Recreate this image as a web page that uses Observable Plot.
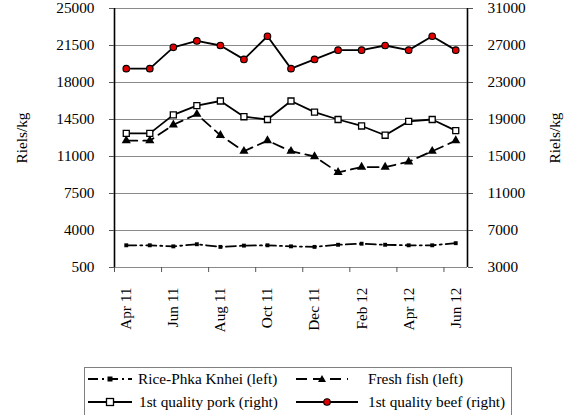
<!DOCTYPE html>
<html>
<head>
<meta charset="utf-8">
<script src="https://cdn.jsdelivr.net/npm/d3@7"></script>
<script src="https://cdn.jsdelivr.net/npm/@observablehq/plot@0.6"></script>
<style>
  body { margin: 0; background: white; font-family: "Liberation Serif", "Times New Roman", Times, "DejaVu Serif", serif; }
  #wrap { position: relative; width: 567px; height: 415px; overflow: hidden; }
  #legend { position: absolute; left: 84px; top: 367px; width: 428px; height: 60px; border: 1px solid #808080; box-sizing: border-box; }
  .item { position: absolute; height: 16px; display: flex; align-items: center; font-size: 15.3px; color: #000; white-space: nowrap; }
  .item svg { flex: none; }
  svg text { font-family: "Liberation Serif", "Times New Roman", Times, "DejaVu Serif", serif !important; }
</style>
</head>
<body>
<div id="wrap"><div id="chart"></div><div id="legend"></div></div>
<script>
const months = ["Apr 11","May 11","Jun 11","Jul 11","Aug 11","Sep 11","Oct 11","Nov 11","Dec 11","Jan 12","Feb 12","Mar 12","Apr 12","May 12","Jun 12"];
const rice = [2600,2600,2500,2700,2450,2570,2600,2500,2450,2650,2750,2650,2600,2600,2800];
const fish = [12500,12500,14000,15000,13000,11500,12500,11500,11000,9500,10000,10000,10500,11500,12500];
const pork = [17500,17500,19500,20500,21000,19300,19000,21000,19800,19000,18300,17300,18800,19000,17800];
const beef = [24500,24500,26800,27500,27000,25500,28000,24500,25500,26500,26500,27000,26500,28000,26500];
const leftTicks = [500,4000,7500,11000,14500,18000,21500,25000];
const rightTicks = [3000,7000,11000,15000,19000,23000,27000,31000];
const seriesNames = ["Rice-Phka Knhei (left)","Fresh fish (left)","1st quality pork (right)","1st quality beef (right)"];
const axisTitle = "Riels/kg";

// map right-axis values onto the left-axis scale
const toLeft = v => 500 + (v - 3000) * (25000 - 500) / (31000 - 3000);
const fromLeft = y => Math.round(3000 + (y - 500) * (31000 - 3000) / (25000 - 500));

const rows = months.map((m, i) => ({i, m, rice: rice[i], fish: fish[i], pork: toLeft(pork[i]), beef: toLeft(beef[i])}));
const labelIdx = months.map((m, i) => i).filter(i => i % 2 === 0);
const bounds = months.map((m, i) => i - 0.5).filter((b, k) => k % 2 === 0);

const fmt = d3.format("d");
const FONT = '"Liberation Serif", "Times New Roman", Times, "DejaVu Serif", serif';

const chart = Plot.plot({
  width: 567,
  height: 360,
  marginTop: 8,
  marginBottom: 93,
  marginLeft: 114,
  marginRight: 100,
  style: {fontFamily: FONT, fontSize: "15.3px", background: "white", overflow: "visible", color: "black"},
  x: {type: "linear", domain: [-0.5, months.length - 0.5]},
  y: {domain: [500, 25000]},
  marks: [
    Plot.gridY(leftTicks, {stroke: "#8a8a8a", strokeOpacity: 1, strokeWidth: 1}),
    Plot.ruleY([500], {stroke: "#8a8a8a", strokeWidth: 1}),
    Plot.ruleX([-0.5, months.length - 0.5], {stroke: "black", strokeWidth: 1.6}),
    Plot.axisY({anchor: "left", ticks: leftTicks, tickFormat: fmt, tickSize: 5, tickPadding: 15, stroke: "#555",
      label: axisTitle, labelAnchor: "center", labelArrow: "none", labelOffset: 98}),
    Plot.axisY({anchor: "right", ticks: rightTicks.map(toLeft), tickFormat: d => fmt(fromLeft(d)), tickSize: 5, tickPadding: 15, stroke: "#555",
      label: axisTitle, labelAnchor: "center", labelArrow: "none", labelOffset: 92}),
    Plot.axisX({ticks: bounds, tickFormat: () => "", tickSize: 5, stroke: "#555", label: null}),
    Plot.axisX({ticks: labelIdx, tickFormat: i => months[i], tickSize: 0, tickPadding: 20, tickRotate: -90, label: null}),
    Plot.line(rows, {x: "i", y: "rice", stroke: "black", strokeWidth: 1.8, strokeDasharray: "10,4,2,4"}),
    Plot.dot(rows, {x: "i", y: "rice", symbol: "square", r: 2.2, fill: "black"}),
    Plot.line(rows, {x: "i", y: "fish", stroke: "black", strokeWidth: 1.8, strokeDasharray: "11,6"}),
    Plot.dot(rows, {x: "i", y: "fish", symbol: "triangle", r: 3.4, fill: "black"}),
    Plot.line(rows, {x: "i", y: "pork", stroke: "black", strokeWidth: 1.8}),
    Plot.dot(rows, {x: "i", y: "pork", symbol: "square", r: 3.4, fill: "white", stroke: "black", strokeWidth: 1.3}),
    Plot.line(rows, {x: "i", y: "beef", stroke: "black", strokeWidth: 1.8}),
    Plot.dot(rows, {x: "i", y: "beef", symbol: "circle", r: 3.3, fill: "#e00000", stroke: "black", strokeWidth: 1.1})
  ]
});
document.getElementById("chart").appendChild(chart);

// legend
const samples = [
  `<line x1="0" y1="8" x2="44" y2="8" stroke="black" stroke-width="1.8" stroke-dasharray="10,4,2,4"/><rect x="19.5" y="5.5" width="5" height="5" fill="black"/>`,
  `<line x1="0" y1="8" x2="52" y2="8" stroke="black" stroke-width="1.8" stroke-dasharray="11,6"/><path d="M26,4 L30,11 L22,11 Z" fill="black"/>`,
  `<line x1="0" y1="8" x2="44" y2="8" stroke="black" stroke-width="1.8"/><rect x="18.5" y="4.5" width="7" height="7" fill="white" stroke="black" stroke-width="1.3"/>`,
  `<line x1="0" y1="8" x2="62" y2="8" stroke="black" stroke-width="1.8"/><circle cx="31" cy="8" r="3.3" fill="#e00000" stroke="black" stroke-width="1.1"/>`
];
const pos = [[3, 3, 44, 6], [211, 3, 54, 18], [3, 26, 44, 7], [211, 26, 64, 8]];
const legend = document.getElementById("legend");
seriesNames.forEach((name, k) => {
  const d = document.createElement("div");
  d.className = "item";
  d.style.left = pos[k][0] + "px";
  d.style.top = pos[k][1] + "px";
  const w = pos[k][2];
  d.innerHTML = `<svg width="${w}" height="16">${samples[k]}</svg><span></span>`;
  const s = d.querySelector("span");
  s.textContent = name;
  s.style.marginLeft = pos[k][3] + "px";
  legend.appendChild(d);
});
</script>
</body>
</html>
